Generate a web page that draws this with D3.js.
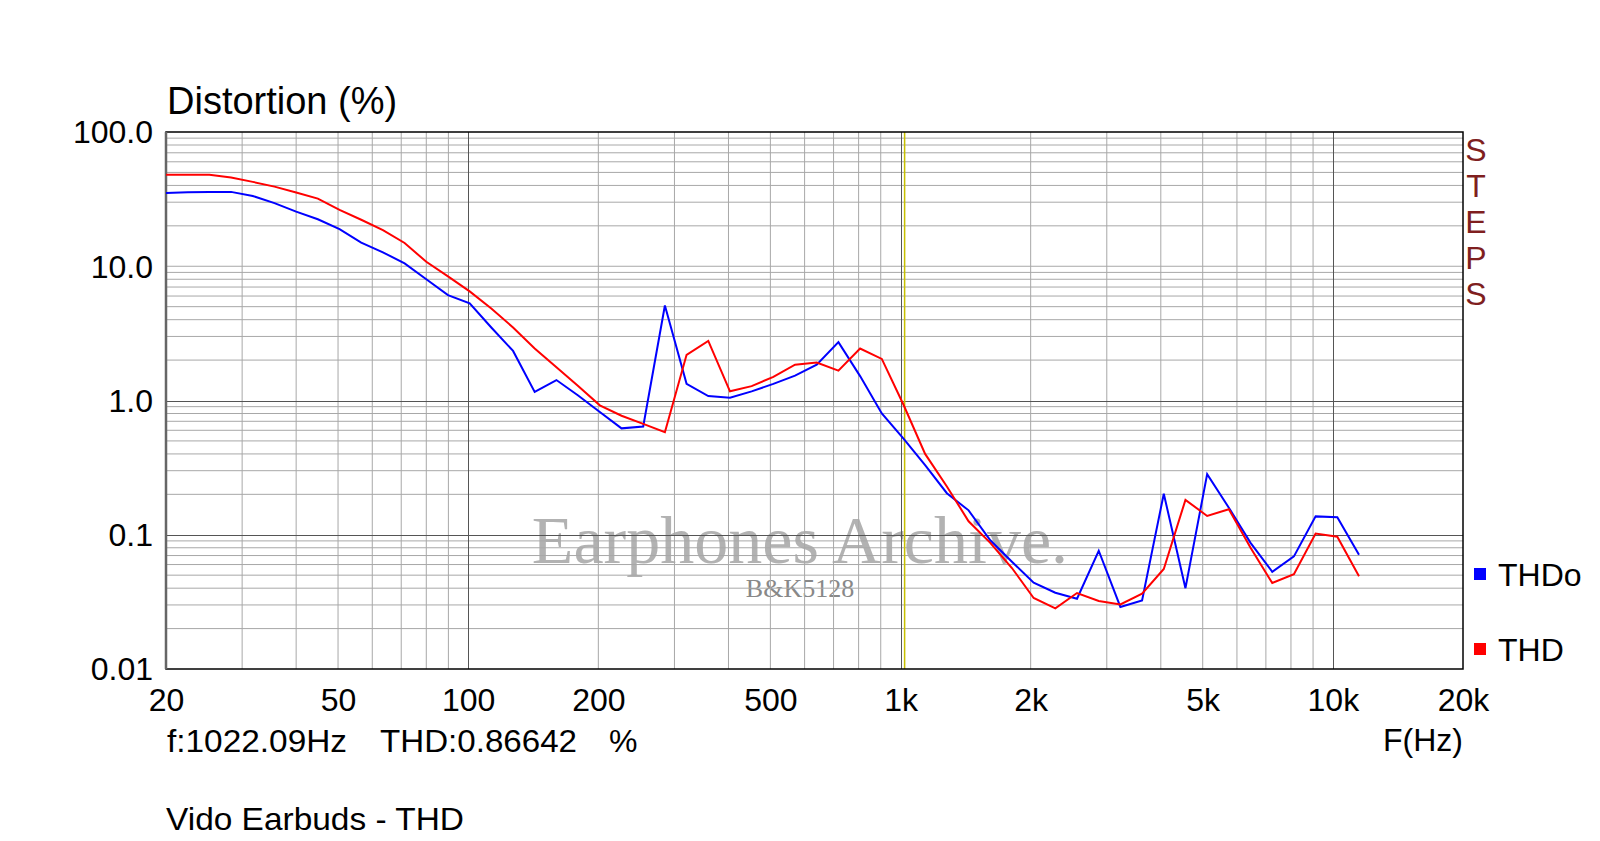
<!DOCTYPE html>
<html>
<head>
<meta charset="utf-8">
<script src="https://cdn.jsdelivr.net/npm/d3@7"></script>
<style>
  html, body { margin: 0; padding: 0; background: #fff; }
  svg { display: block; font-family: "Liberation Sans", Arial, sans-serif; }
</style>
</head>
<body>
<svg id="chart" width="1600" height="841"></svg>
<script>
// ---- data (1/6-octave points) ----
const freqs = [20, 22.45, 25.2, 28.28, 31.75, 35.64, 40, 44.9, 50.4, 56.57, 63.5, 71.27,
  80, 89.8, 100.8, 113.1, 127, 142.5, 160, 179.6, 201.6, 226.3, 254, 285.1, 320, 359.2,
  403.2, 452.5, 508, 570.2, 640, 718.4, 806.3, 905.1, 1016, 1140, 1280, 1437, 1613, 1810,
  2032, 2281, 2560, 2874, 3225, 3620, 4064, 4561, 5120, 5747, 6451, 7241, 8127, 9123,
  10240, 11494];
const thdo = [35.2, 35.6, 35.8, 35.8, 33.4, 29.5, 25.5, 22.4, 18.9, 15.0, 12.7, 10.5,
  8.0, 6.1, 5.3, 3.5, 2.34, 1.16, 1.42, 1.09, 0.82, 0.62, 0.64, 5.1, 1.33, 1.08,
  1.05, 1.17, 1.33, 1.53, 1.85, 2.72, 1.52, 0.80, 0.52, 0.33, 0.204, 0.152, 0.091, 0.063,
  0.044, 0.037, 0.0334, 0.076, 0.029, 0.0324, 0.202, 0.040, 0.283, 0.159, 0.087, 0.053, 0.069, 0.137,
  0.135, 0.071];
const thd = [48.0, 48.0, 48.0, 45.8, 42.5, 39.2, 35.4, 31.9, 26.3, 22.2, 18.6, 14.9,
  10.8, 8.4, 6.5, 4.84, 3.5, 2.44, 1.77, 1.28, 0.92, 0.77, 0.67, 0.58, 2.19, 2.78,
  1.17, 1.28, 1.50, 1.85, 1.92, 1.67, 2.44, 2.04, 0.93, 0.40, 0.229, 0.126, 0.087, 0.0565,
  0.0338, 0.0283, 0.0368, 0.0321, 0.0303, 0.0364, 0.0556, 0.182, 0.138, 0.155, 0.080, 0.0437, 0.0509, 0.102,
  0.0966, 0.049];
const xTicks = [20, 50, 100, 200, 500, 1000, 2000, 5000, 10000, 20000];
const xTickLabels = ["20", "50", "100", "200", "500", "1k", "2k", "5k", "10k", "20k"];
const yTicks = [0.01, 0.1, 1, 10, 100];
const yTickLabels = ["0.01", "0.1", "1.0", "10.0", "100.0"];
const seriesNames = ["THDo", "THD"];
const seriesColors = ["#0000ff", "#ff0000"];
const cursorFreq = 1022.09;
const cursorText = ["f:1022.09Hz", "THD:0.86642", "%"];
const title = "Distortion (%)";
const subtitle = "Vido Earbuds - THD";
const xAxisTitle = "F(Hz)";
const sideLabel = ["S", "T", "E", "P", "S"];

// ---- layout ----
const L = 166, R = 1463, T = 132, B = 669;
const SANS = "'Liberation Sans', Arial, sans-serif";
const SERIF = "'Liberation Serif', 'Times New Roman', serif";
const svg = d3.select("#chart");
svg.append("rect").attr("width", 1600).attr("height", 841).attr("fill", "#fff");

const x = d3.scaleLog().domain([20, 20000]).range([L, R]);
const y = d3.scaleLog().domain([0.01, 100]).range([B, T]);

// watermark
const wm = svg.append("g");
wm.append("text").attr("x", 800).attr("y", 563).attr("text-anchor", "middle")
  .style("font-family", SERIF).attr("font-size", 68)
  .attr("fill", "#b2b2b2").text("Earphones Archive.");
wm.append("text").attr("x", 800).attr("y", 597).attr("text-anchor", "middle")
  .style("font-family", SERIF).attr("font-size", 26)
  .attr("fill", "#888").text("B&K5128");

// grid
const grid = svg.append("g");
const vMinor = [], hMinor = [];
[10, 100, 1000, 10000].forEach(d => { for (let n = 2; n <= 9; n++) { const v = n * d; if (v > 20 && v < 20000) vMinor.push(v); } });
[0.01, 0.1, 1, 10].forEach(d => { for (let n = 2; n <= 9; n++) hMinor.push(n * d); });
grid.selectAll(".vm").data(vMinor.filter(v => ![100, 1000, 10000].includes(v))).join("line")
  .attr("x1", d => x(d)).attr("x2", d => x(d)).attr("y1", T).attr("y2", B)
  .attr("stroke", "#a8a8a8").attr("stroke-width", 1);
grid.selectAll(".hm").data(hMinor.concat([10])).join("line")
  .attr("x1", L).attr("x2", R).attr("y1", d => y(d)).attr("y2", d => y(d))
  .attr("stroke", "#a8a8a8").attr("stroke-width", 1);
grid.selectAll(".vM").data([100, 1000, 10000]).join("line")
  .attr("x1", d => Math.round(x(d)) + 0.5).attr("x2", d => Math.round(x(d)) + 0.5).attr("y1", T).attr("y2", B)
  .attr("stroke", "#555").attr("stroke-width", 1);
grid.selectAll(".hM").data([1, 0.1]).join("line")
  .attr("x1", L).attr("x2", R).attr("y1", d => Math.round(y(d)) + 0.5).attr("y2", d => Math.round(y(d)) + 0.5)
  .attr("stroke", "#555").attr("stroke-width", 1);

// cursor line
svg.append("line").attr("x1", x(cursorFreq)).attr("x2", x(cursorFreq)).attr("y1", T).attr("y2", B)
  .attr("stroke", "#c8c000").attr("stroke-width", 1.5);

// frame
svg.append("rect").attr("x", L).attr("y", T).attr("width", R - L).attr("height", B - T)
  .attr("fill", "none").attr("stroke", "#000").attr("stroke-width", 1.5);
svg.append("line").attr("x1", L).attr("x2", L).attr("y1", T).attr("y2", B)
  .attr("stroke", "#666").attr("stroke-width", 2.5);

// series
const line = d3.line().x((d, i) => x(freqs[i])).y(d => y(d));
[thdo, thd].forEach((s, i) => {
  svg.append("path").datum(s).attr("d", line).attr("fill", "none")
    .attr("stroke", seriesColors[i]).attr("stroke-width", 2).attr("stroke-linejoin", "miter");
});

// axes (labels only)
const xAxis = d3.axisBottom(x).tickValues(xTicks).tickFormat((d, i) => xTickLabels[i]).tickSize(0).tickPadding(0);
const gx = svg.append("g").attr("transform", `translate(0,${B})`).call(xAxis);
gx.select(".domain").remove();
gx.selectAll("text").attr("font-size", 32).style("font-family", SANS)
  .attr("fill", "#000").attr("dy", null).attr("y", 42);

const yAxis = d3.axisLeft(y).tickValues(yTicks).tickFormat((d, i) => yTickLabels[i]).tickSize(0).tickPadding(0);
const gy = svg.append("g").attr("transform", `translate(${153},0)`).call(yAxis);
gy.select(".domain").remove();
gy.selectAll("text").attr("font-size", 32).style("font-family", SANS)
  .attr("fill", "#000").attr("dy", "0.34em").attr("x", 0);

// titles
svg.append("text").attr("x", 167).attr("y", 114).attr("font-size", 38).attr("fill", "#000").text(title);
svg.append("text").attr("x", R).attr("y", 751).attr("text-anchor", "end").attr("font-size", 32).attr("fill", "#000").text(xAxisTitle);
svg.append("text").attr("x", 167).attr("y", 752).attr("font-size", 32).attr("fill", "#000")
  .attr("textLength", 180).attr("lengthAdjust", "spacingAndGlyphs").text(cursorText[0]);
svg.append("text").attr("x", 380).attr("y", 752).attr("font-size", 32).attr("fill", "#000")
  .attr("textLength", 197).attr("lengthAdjust", "spacingAndGlyphs").text(cursorText[1]);
svg.append("text").attr("x", 609).attr("y", 752).attr("font-size", 32).attr("fill", "#000").text(cursorText[2]);
svg.append("text").attr("x", 166).attr("y", 830).attr("font-size", 32).attr("fill", "#000")
  .attr("textLength", 298).attr("lengthAdjust", "spacingAndGlyphs").text(subtitle);

// side label
svg.append("g").selectAll("text").data(sideLabel).join("text")
  .attr("x", 1476).attr("y", (d, i) => 161 + i * 36).attr("text-anchor", "middle")
  .attr("font-size", 32).attr("fill", "#7f1f1f").text(d => d);

// legend
const lg = svg.append("g").selectAll("g").data(seriesNames).join("g")
  .attr("transform", (d, i) => `translate(1474,${568 + i * 75})`);
lg.append("rect").attr("width", 12).attr("height", 12).attr("fill", (d, i) => seriesColors[i]);
lg.append("text").attr("x", 24).attr("y", 18).attr("font-size", 32).attr("fill", "#000").text(d => d);
</script>
</body>
</html>
